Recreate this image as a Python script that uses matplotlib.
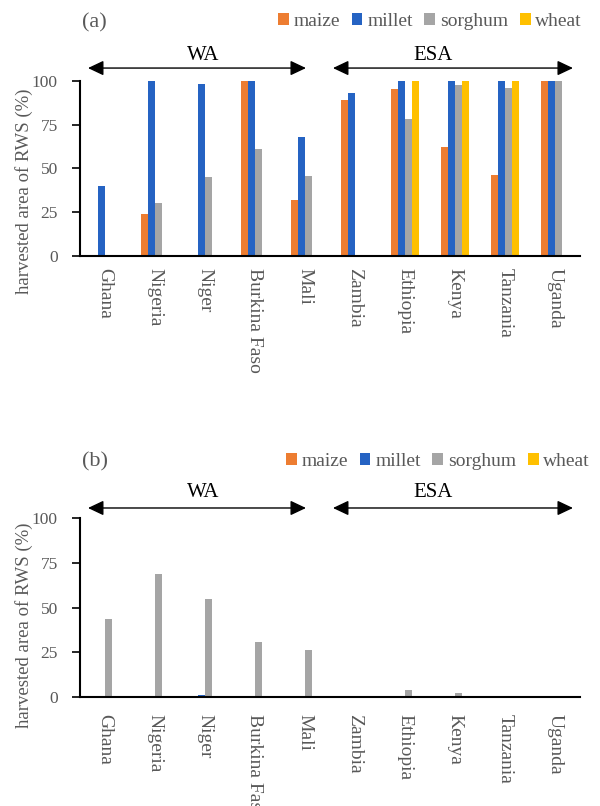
import numpy as np
import matplotlib
matplotlib.use('Agg')
import matplotlib.pyplot as plt

# data
countries = ['Ghana', 'Nigeria', 'Niger', 'Burkina Faso', 'Mali',
             'Zambia', 'Ethiopia', 'Kenya', 'Tanzania', 'Uganda']
crops = ['maize', 'millet', 'sorghum', 'wheat']

# panel (a)
maize_a = [0, 24, 0, 100, 32, 89, 95.5, 62, 46, 100]
millet_a = [40, 100, 98.5, 100, 68, 93, 100, 100, 100, 100]
sorghum_a = [0, 30.5, 45, 61, 45.5, 0, 78.5, 97.5, 96, 100]
wheat_a = [0, 0, 0, 0, 0, 0, 100, 100, 100, 0]

# panel (b)
maize_b = [0, 0, 0, 0, 0, 0, 0, 0, 0, 0]
millet_b = [0, 0, 1, 0, 0, 0, 0, 0, 0, 0]
sorghum_b = [43.5, 69, 55, 30.5, 26.5, 0, 4, 2.5, 0, 0]
wheat_b = [0, 0, 0, 0, 0, 0, 0, 0, 0, 0]

yticks = [0, 25, 50, 75, 100]
colors = ['#ED7D31', '#2563C3', '#A5A5A5', '#FFC000']
gray = '#595959'

plt.rcParams['font.family'] = ['Liberation Serif', 'DejaVu Serif']

fig = plt.figure(figsize=(6, 8.06), dpi=100)
ax_a = fig.add_axes([0.1333, 0.6824, 0.8333, 0.2171])
ax_b = fig.add_axes([0.1333, 0.1352, 0.8333, 0.2221])

x = np.arange(len(countries))
w = 0.14


def draw(ax, series, tag, tag_y, label_y, arr_y, txt_y, pad):
    for k, (vals, c) in enumerate(zip(series, colors)):
        ax.bar(x + (k - 1.5) * w, vals, width=w, color=c, linewidth=0,
               label=crops[k])
    ax.set_xlim(-0.5, len(countries) - 0.5)
    ax.set_ylim(0, 100)
    ax.set_yticks(yticks)
    ax.set_xticks(x)
    ax.set_xticklabels(countries, rotation=-90, fontsize=14, color=gray,
                       va='top', ha='center')
    ax.tick_params(axis='x', length=0, pad=pad)
    ax.tick_params(axis='y', length=6, width=1.2, direction='out',
                   labelsize=12.5, labelcolor=gray, pad=10)
    for s in ['top', 'right']:
        ax.spines[s].set_visible(False)
    for s in ['left', 'bottom']:
        ax.spines[s].set_linewidth(1.5)
    ax.set_ylabel('harvested area of RWS (%)', fontsize=13.5, color=gray)
    ax.yaxis.set_label_coords(-0.094, label_y)

    # region arrows
    for x0, x1, xt, name in [(-0.34, 4.02, 1.96, 'WA'), (4.56, 9.36, 6.56, 'ESA')]:
        ax.annotate('', xy=(x1, arr_y), xytext=(x0, arr_y),
                    annotation_clip=False,
                    arrowprops=dict(arrowstyle='<|-|>,head_length=0.95,head_width=0.45',
                                    mutation_scale=10, color='k', lw=1,
                                    shrinkA=0, shrinkB=0))
        ax.text(xt, txt_y, name, ha='center', va='center', fontsize=15,
                color='k', clip_on=False)

    fig.text(82 / 600, 1 - tag_y / 806, tag, fontsize=16, color=gray,
             va='center', ha='left')


draw(ax_a, [maize_a, millet_a, sorghum_a, wheat_a], '(a)', 23, 0.37,
     107.4, 114.5, 9)
draw(ax_b, [maize_b, millet_b, sorghum_b, wheat_b], '(b)', 462, 0.40,
     105.6, 114.0, 12)

for ax, ytop, xr in [(ax_a, 13, 582), (ax_b, 453, 590)]:
    ax.legend(loc='upper right', bbox_to_anchor=(xr / 600, 1 - ytop / 806),
              bbox_transform=fig.transFigure, ncol=4, frameon=False,
              fontsize=14, handlelength=0.55, handleheight=0.55,
              handletextpad=0.25, columnspacing=0.6, labelcolor=gray,
              borderpad=0, borderaxespad=0)

fig.savefig('out.png', dpi=100)
